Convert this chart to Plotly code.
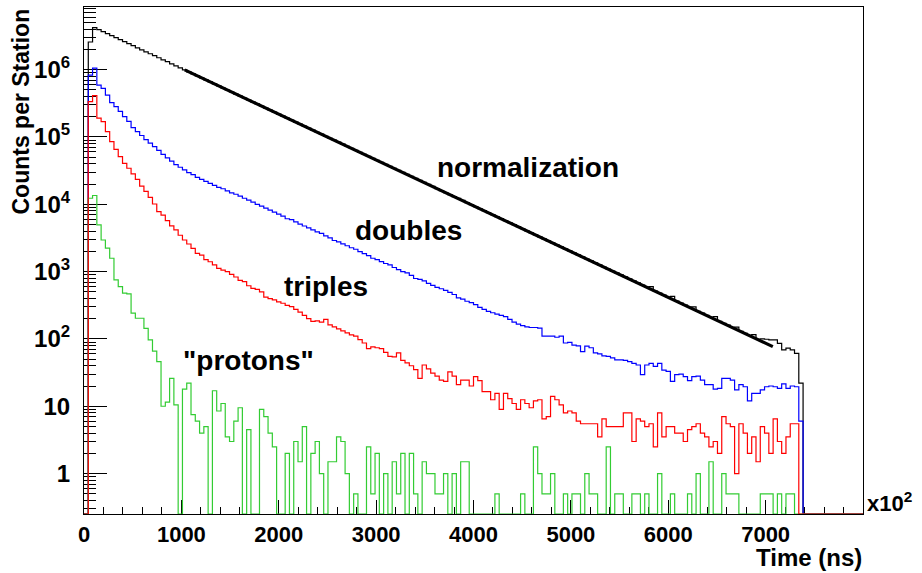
import math
import plotly.graph_objects as go

# ---------------- data ----------------
N_BINS = 182          # bins spanning the full x range
X_MAX = 8000.0        # axis range, ns (labels shown x10^2)

# counts per bin, bins 0..167 (the rest of the range is empty)
normalization = [
    0, 2.57e6, 4.20e6, 3.92e6, 3.66e6, 3.42e6, 3.20e6, 2.99e6, 2.79e6, 2.60e6,
    2.43e6, 2.27e6, 2.11e6, 1.97e6, 1.84e6, 1.72e6, 1.61e6, 1.50e6, 1.40e6, 1.31e6,
    1.22e6, 1.14e6, 1.06e6, 9.9e5, 9.25e5, 8.64e5, 8.07e5, 7.54e5, 7.04e5, 6.57e5,
    6.14e5, 5.74e5, 5.33e5, 4.98e5, 4.65e5, 4.34e5, 4.06e5, 3.79e5, 3.54e5, 3.30e5,
    3.09e5, 2.88e5, 2.68e5, 2.50e5, 2.34e5, 2.18e5, 2.04e5, 1.90e5, 1.78e5, 1.66e5,
    1.55e5, 1.45e5, 1.35e5, 1.26e5, 1.175e5, 1.10e5, 1.025e5, 9.57e4, 8.94e4, 8.35e4,
    7.80e4, 7.28e4, 6.78e4, 6.33e4, 5.91e4, 5.52e4, 5.16e4, 4.82e4, 4.50e4, 4.20e4,
    3.92e4, 3.66e4, 3.41e4, 3.18e4, 2.97e4, 2.78e4, 2.59e4, 2.42e4, 2.26e4, 2.11e4,
    1.97e4, 1.84e4, 1.71e4, 1.60e4, 1.49e4, 1.39e4, 1.30e4, 1.22e4, 1.14e4, 1.06e4,
    9900, 9250, 8610, 8040, 7510, 7010, 6550, 6120, 5720, 5340,
    4980, 4650, 4330, 4040, 3770, 3520, 3290, 3070, 2870, 2680,
    2500, 2340, 2170, 2030, 1900, 1770, 1650, 1540, 1440, 1350,
    1260, 1170, 1090, 1020, 955, 892, 833, 778, 726, 678,
    633, 591, 600, 513, 479, 448, 418, 430, 365, 341,
    318, 297, 300, 258, 241, 225, 210, 215, 183, 171,
    160, 149, 150, 130, 121, 113, 116, 99, 100, 99,
    97, 97, 86, 69, 73, 69, 61, 22,
]

doubles = [
    0, 8.3e5, 1.05e6, 5.9e5, 5.25e5, 4.17e5, 3.24e5, 2.82e5, 2.40e5, 2.00e5,
    1.70e5, 1.38e5, 1.20e5, 1.05e5, 9.1e4, 8.1e4, 7.2e4, 6.3e4, 5.5e4, 4.9e4,
    4.37e4, 3.89e4, 3.55e4, 3.24e4, 2.95e4, 2.75e4, 2.51e4, 2.34e4, 2.19e4, 2.04e4,
    1.91e4, 1.78e4, 1.70e4, 1.58e4, 1.48e4, 1.41e4, 1.32e4, 1.23e4, 1.15e4, 1.074e4,
    1.00e4, 9380, 8750, 8180, 7650, 7140, 6680, 6100, 5900, 5460,
    5090, 4760, 4450, 4160, 3890, 3700, 3400, 3170, 2900, 2770,
    2590, 2420, 2260, 2150, 1980, 1850, 1730, 1580, 1510, 1410,
    1320, 1260, 1150, 1070, 1000, 960, 877, 790, 766, 730,
    668, 625, 583, 556, 525, 490, 457, 407, 389, 363,
    347, 324, 295, 275, 257, 245, 234, 224, 214, 195,
    178, 166, 158, 151, 148, 148, 145, 110, 110, 110,
    106, 110, 87, 89, 81, 79, 65, 78, 74, 62,
    60, 56, 55, 52.5, 49, 49, 48, 46, 43.5, 41,
    29.5, 41, 43.5, 39, 43.5, 34.5, 33, 23.5, 29.5, 30,
    27.5, 24, 27.5, 28, 24.5, 21, 21, 18, 18.5, 26,
    26, 24.5, 17.5, 21, 19.5, 12, 15.5, 15.5, 17.5, 19.5,
    20, 19.5, 18.5, 21.5, 18.5, 20, 19.5, 6,
]

triples = [
    0, 3.35e5, 4.11e5, 1.90e5, 1.69e5, 1.20e5, 8.5e4, 6.56e4, 5.1e4, 4.06e4,
    3.43e4, 2.82e4, 2.34e4, 1.86e4, 1.55e4, 1.27e4, 1.01e4, 7760, 6920, 5710,
    4790, 4170, 3470, 2950, 2570, 2220, 1860, 1760, 1510, 1400,
    1260, 1120, 1050, 998, 912, 832, 741, 708, 617, 562,
    545, 501, 417, 398, 380, 355, 339, 316, 302, 275,
    251, 224, 200, 182, 186, 178, 195, 162, 151, 141,
    132, 123, 115, 110, 98, 87, 72, 76, 74, 72,
    63, 55, 54, 62, 48, 44, 40, 35, 26, 41,
    36, 31, 28, 24.5, 23.5, 32.5, 28, 21, 24.5, 24.5,
    20, 27.5, 24, 16.5, 16.5, 12.5, 15.5, 9, 15.5, 13,
    11, 9, 12.5, 11, 9.5, 12, 12.5, 6.5, 7, 14,
    12.5, 10.5, 8, 8.5, 8, 6, 5.5, 5.5, 5.5, 5.5,
    3.5, 6.5, 5, 5, 5, 5, 8, 8, 3, 6.5,
    6, 5, 5.5, 2.5, 8, 3.5, 5, 5, 4, 4,
    3, 4.5, 5, 5.5, 4, 3.5, 2.5, 3, 2, 7,
    5.5, 5, 1, 5.5, 4, 2, 3.5, 1.5, 5, 4,
    2, 6.5, 3, 2, 3.5, 5.5, 5.5, 0,
]

protons = [
    0, 12300, 13500, 4940, 2950, 2230, 1580, 753, 598, 479,
    468, 241, 203, 203, 144, 97, 66, 46, 10, 11.5,
    26, 10.5, 0, 18, 22, 7.5, 6, 4, 5, 0,
    17, 8.5, 11, 3.5, 3, 6, 9.5, 0, 4.5, 0,
    0, 9, 7, 4, 2.5, 0, 0, 2, 0, 3,
    1.5, 5, 0, 2, 3, 1, 0, 1.5, 1.5, 3.5,
    3, 1, 0, 0.5, 0, 0, 2.5, 0.5, 2, 0,
    1, 0, 1.5, 0.5, 2, 0, 2, 0.5, 0, 1.5,
    1, 1, 0.5, 0.5, 1, 0, 1, 0, 1.5, 1.5,
    0, 0, 0, 0, 0, 0, 0.5, 0, 0, 0,
    0, 0, 0.5, 0, 0, 2.5, 1, 0.5, 0.5, 1,
    0, 0, 0.5, 0, 0.5, 0.5, 0, 1, 0.5, 0.5,
    0, 0, 2.5, 0, 0.5, 0.5, 0, 0, 0.5, 0.5,
    0, 0.5, 0, 0, 1, 0, 0, 0.5, 0, 0,
    0, 0.5, 0, 1, 0, 0, 1.5, 0, 0, 1,
    0.5, 0.5, 0.5, 0, 0, 0, 0, 0, 0.5, 0.5,
    0.5, 0, 0.5, 0, 0.5, 0.5, 0, 0,
]

# exponential fit drawn over the normalization histogram (end points)
fit_x = [1034, 7074]
fit_y = [9.9e5, 77]

x_tickvals = [0, 1000, 2000, 3000, 4000, 5000, 6000, 7000]
x_ticktext = ["0", "1000", "2000", "3000", "4000", "5000", "6000", "7000"]
y_tickvals = [1, 10, 100, 1000, 1e4, 1e5, 1e6]
y_ticktext = ["1", "10", "10<sup>2</sup>", "10<sup>3</sup>", "10<sup>4</sup>",
              "10<sup>5</sup>", "10<sup>6</sup>"]

LOG_YMIN, LOG_YMAX = -0.6, 6.93
FLOOR = 10 ** LOG_YMIN   # empty bins are drawn on the axis

# ---------------- figure ----------------
BW = X_MAX / N_BINS
edges = [i * BW for i in range(N_BINS + 1)]


def step_series(vals):
    full = list(vals) + [0] * (N_BINS - len(vals))
    ys = [v if v > 0 else FLOOR for v in full]
    return edges, ys + [ys[-1]]


fig = go.Figure()
for vals, col in [(normalization, "#000000"), (doubles, "#0000ff"),
                  (protons, "#33cc33"), (triples, "#ff0000")]:
    xs, ys = step_series(vals)
    fig.add_trace(go.Scatter(x=xs, y=ys, mode="lines", line_shape="hv",
                             line=dict(color=col, width=1.2), hoverinfo="skip"))

fig.add_trace(go.Scatter(x=fit_x, y=fit_y, mode="lines",
                         line=dict(color="black", width=3.2), hoverinfo="skip"))

minor_y = [k * 10 ** n for n in range(-1, 7) for k in range(2, 10)
           if LOG_YMIN < (n + math.log10(k)) < LOG_YMAX]

FONT = "Liberation Sans, Arial, Helvetica, sans-serif"
fig.update_layout(
    width=922, height=573,
    margin=dict(l=84, r=59, t=7, b=59, pad=0),
    paper_bgcolor="white", plot_bgcolor="white",
    showlegend=False,
    font=dict(family=FONT, color="black", size=22, weight="bold"),
)
fig.update_xaxes(
    range=[0, X_MAX], tickmode="array", tickvals=x_tickvals, ticktext=x_ticktext,
    ticks="inside", ticklen=14, tickwidth=1, tickcolor="black",
    showline=True, linecolor="black", linewidth=1.2, mirror=True,
    showgrid=False, zeroline=False, layer="below traces",
    tickfont=dict(family=FONT, size=22, color="black", weight="bold"),
    ticklabelstandoff=0,
    minor=dict(ticks="inside", ticklen=7, tickwidth=1, tickcolor="black",
               dtick=200, tick0=0, showgrid=False),
)
fig.update_yaxes(
    type="log", range=[LOG_YMIN, LOG_YMAX], tickmode="array",
    tickvals=y_tickvals, ticktext=y_ticktext,
    ticks="inside", ticklen=23, tickwidth=1, tickcolor="black",
    showline=True, linecolor="black", linewidth=1.2, mirror=True,
    showgrid=False, zeroline=False, layer="below traces",
    tickfont=dict(family=FONT, size=24, color="black", weight="bold"),
    ticklabelstandoff=8,
    minor=dict(ticks="inside", ticklen=12, tickwidth=1, tickcolor="black",
               tickvals=minor_y, showgrid=False),
)

L, R, T, B = 84, 863, 7, 514


def px(x):
    return (x - L) / (R - L)


def py(y):
    return (B - y) / (B - T)


labels = [
    ("normalization", 435, 168),
    ("doubles", 353, 230),
    ("triples", 282, 287),
    ("\"protons\"", 181, 360),
]
ann = []
for txt, x0, yc in labels:
    ann.append(dict(text=txt, x=px(x0), y=py(yc), xref="paper", yref="paper",
                    xanchor="left", yanchor="middle", showarrow=False,
                    font=dict(family=FONT, size=28, color="black", weight="bold")))
ann.append(dict(text="Counts per Station", x=px(20.5), y=py(112), xref="paper",
                yref="paper", xanchor="center", yanchor="middle", textangle=-90,
                showarrow=False,
                font=dict(family=FONT, size=23, color="black", weight="bold")))
ann.append(dict(text="Time (ns)", x=px(864), y=py(557), xref="paper", yref="paper",
                xanchor="right", yanchor="middle", showarrow=False,
                font=dict(family=FONT, size=24, color="black", weight="bold")))
ann.append(dict(text="x10<sup>2</sup>", x=px(865), y=py(518), xref="paper",
                yref="paper", xanchor="left", yanchor="bottom", showarrow=False,
                font=dict(family=FONT, size=22, color="black", weight="bold")))
fig.update_layout(annotations=ann)

fig.write_html("out.html")
